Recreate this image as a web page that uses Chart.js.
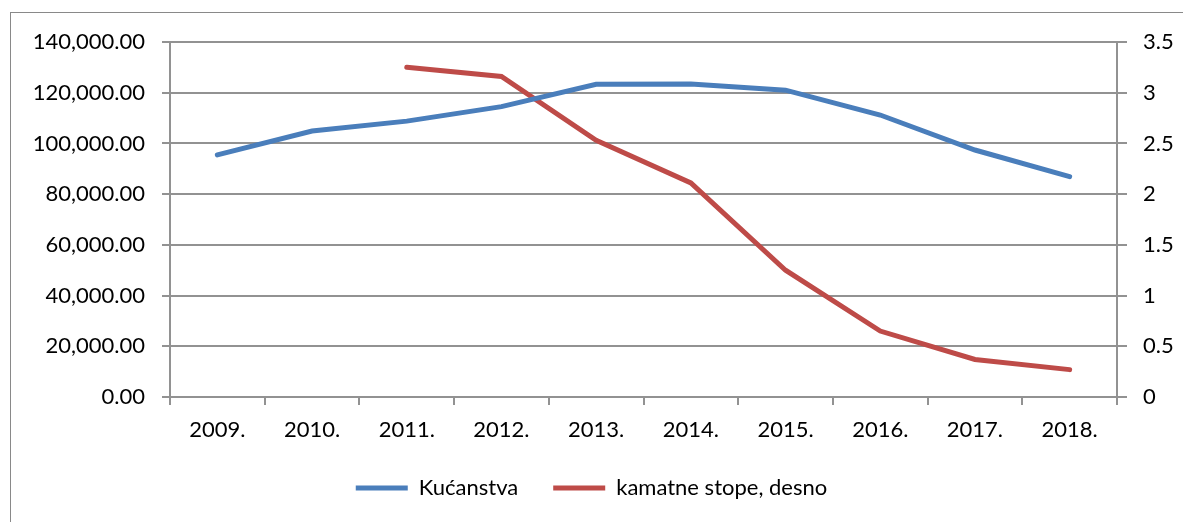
<!DOCTYPE html>
<html>
<head>
<meta charset="utf-8">
<script src="https://cdn.jsdelivr.net/npm/chart.js@4"></script>
<style>
  html, body { margin: 0; padding: 0; background: #fff; overflow: hidden; }
  #frame { position: absolute; left: 10px; top: 12px; width: 1300px; height: 600px; border: 1px solid #898989; }
  #wrap { position: absolute; left: 0; top: 0; width: 1183px; height: 522px; }
</style>
</head>
<body>
<div id="frame"></div>
<div id="wrap"><canvas id="lineCanvas" width="1183" height="522"></canvas></div>
<script>
var years = ['2009.', '2010.', '2011.', '2012.', '2013.', '2014.', '2015.', '2016.', '2017.', '2018.'];
var kucanstva = [95500, 104900, 108800, 114500, 123300, 123400, 121000, 111200, 97400, 86900];
var kamatneStope = [null, null, 3.25, 3.16, 2.53, 2.11, 1.25, 0.65, 0.37, 0.27];
var leftTicks = [0, 20000, 40000, 60000, 80000, 100000, 120000, 140000];
var rightTicks = [0, 0.5, 1, 1.5, 2, 2.5, 3, 3.5];

var gridColor = '#929292';
var fontSpec = { family: 'Lato', size: 22 };

function lineChartMethod() {
  this.lineChart = new Chart(document.getElementById('lineCanvas').getContext('2d'), {
    type: 'line',
    data: {
      labels: years,
      datasets: [{
        label: 'Kućanstva',
        data: kucanstva,
        borderColor: '#4a7ebb',
        backgroundColor: '#4a7ebb',
        borderWidth: 5,
        borderCapStyle: 'round',
        pointRadius: 0,
        tension: 0,
        yAxisID: 'y'
      }, {
        label: 'kamatne stope, desno',
        data: kamatneStope,
        borderColor: '#be4b48',
        backgroundColor: '#be4b48',
        borderWidth: 5,
        borderCapStyle: 'round',
        pointRadius: 0,
        tension: 0,
        yAxisID: 'y1'
      }]
    },
    options: {
      responsive: false,
      animation: false,
      layout: { padding: { top: 42, left: 0, right: 0, bottom: 13 } },
      plugins: {
        tooltip: { enabled: false },
        legend: {
          position: 'bottom',
          labels: {
            usePointStyle: true,
            pointStyleWidth: 52,
            pointStyle: 'line',
            padding: 35,
            color: '#000',
            font: fontSpec
          }
        }
      },
      scales: {
        x: {
          offset: true,
          afterFit: function (scale) { scale.height = 45; },
          grid: { offset: true, drawOnChartArea: false, drawTicks: true, tickLength: 8, color: gridColor, lineWidth: 2 },
          border: { display: true, color: gridColor, width: 2 },
          ticks: { color: '#000', font: fontSpec, padding: 12, maxRotation: 0 }
        },
        y: {
          position: 'left',
          min: 0,
          max: 140000,
          afterFit: function (scale) { scale.width = 170; },
          afterBuildTicks: function (scale) { scale.ticks = leftTicks.map(function (v) { return { value: v }; }); },
          grid: { color: gridColor, lineWidth: 2, tickLength: 8 },
          border: { display: true, color: gridColor, width: 2 },
          ticks: {
            color: '#000',
            font: fontSpec,
            padding: 17,
            callback: function (v) {
              return Number(v).toLocaleString('en-US', { minimumFractionDigits: 2, maximumFractionDigits: 2 });
            }
          }
        },
        y1: {
          position: 'right',
          min: 0,
          max: 3.5,
          afterFit: function (scale) { scale.width = 66; },
          afterBuildTicks: function (scale) { scale.ticks = rightTicks.map(function (v) { return { value: v }; }); },
          grid: { drawOnChartArea: false, color: gridColor, lineWidth: 2, tickLength: 10 },
          border: { display: true, color: gridColor, width: 2 },
          ticks: {
            color: '#000',
            font: fontSpec,
            padding: 16,
            callback: function (v) { return String(v); }
          }
        }
      }
    }
  });
}

document.addEventListener('DOMContentLoaded', function () {
  lineChartMethod();
});
</script>
</body>
</html>
